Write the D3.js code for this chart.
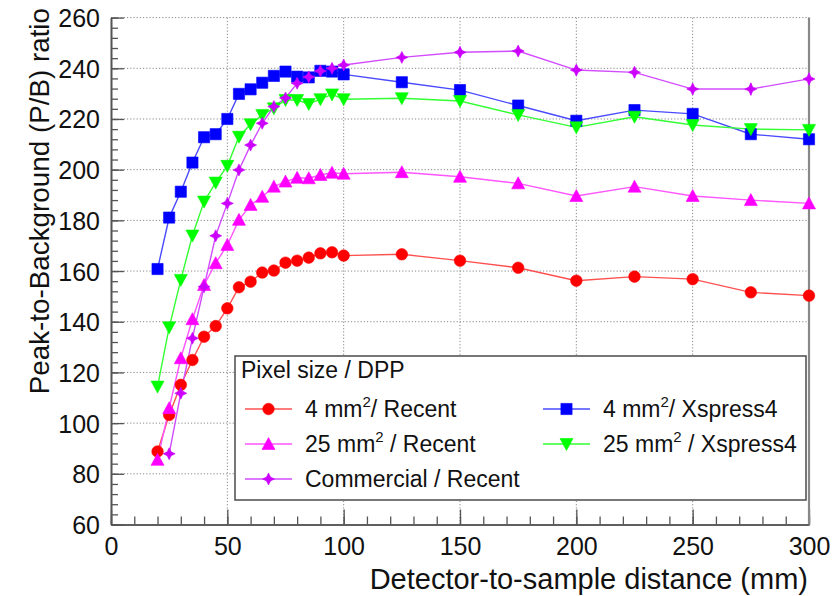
<!DOCTYPE html>
<html><head><meta charset="utf-8">
<script src="https://cdn.jsdelivr.net/npm/d3@7"></script>
<style>body{margin:0;background:#fff}svg{display:block;font-family:"Liberation Sans",Arial,sans-serif}</style>
</head><body>
<svg id="c" width="838" height="596"></svg>
<script>
// ---- data ----
const xTicks = [0, 50, 100, 150, 200, 250, 300];
const yTicks = [60, 80, 100, 120, 140, 160, 180, 200, 220, 240, 260];

const xRecent4 = [20,25,30,35,40,45,50,55,60,65,70,75,80,85,90,95,100,125,150,175,200,225,250,275,300];
const yRecent4 = [88.8,103.2,115.1,124.9,134.1,138.3,145.3,153.6,155.8,159.4,160.2,163.3,164.1,165.3,167.0,167.4,166.1,166.6,164.1,161.3,156.2,157.8,156.8,151.6,150.3];

const xRecent25 = [20,25,30,35,40,45,50,55,60,65,70,75,80,85,90,95,100,125,150,175,200,225,250,275,300];
const yRecent25 = [85.5,105.9,125.6,141.0,154.5,163.1,170.3,180.2,186.1,189.3,193.3,195.3,196.8,196.6,197.9,198.8,198.4,199.0,197.2,194.6,189.6,193.3,189.6,188.0,186.7];

const xCommercial = [25,30,35,40,45,50,55,60,65,70,75,80,85,90,95,100,125,150,175,200,225,250,275,300];
const yCommercial = [87.9,111.8,133.5,153.8,173.9,186.7,199.9,209.7,218.3,224.9,228.3,234.1,236.6,238.9,240.0,241.3,244.3,246.3,246.8,239.3,238.4,231.8,231.8,235.8];
const eCommercial = [1,1,1,1,1,1,1,1,1,1,1,1,1,1.5,1.5,1.5,1.5,1.8,2,2,2.2,2.2,2.5,2.5];

const xXsp4 = [20,25,30,35,40,45,50,55,60,65,70,75,80,85,90,95,100,125,150,175,200,225,250,275,300];
const yXsp4 = [160.8,181.1,191.3,202.8,212.8,214.0,220.0,229.9,231.7,234.3,237.0,238.7,236.7,236.4,239.0,238.7,237.6,234.5,231.4,225.3,219.3,223.5,222.0,214.0,212.0];

const xXsp25 = [20,25,30,35,40,45,50,55,60,65,70,75,80,85,90,95,100,125,150,175,200,225,250,275,300];
const yXsp25 = [114.4,137.8,156.5,174.0,187.4,194.9,201.5,213.0,217.9,221.6,224.2,227.5,227.5,225.9,227.8,229.7,227.8,228.2,227.1,221.6,216.7,220.9,217.6,216.0,215.7];

const seriesNames = ["4 mm|/ Recent", "4 mm|/ Xspress4", "25 mm| / Recent", "25 mm| / Xspress4", "Commercial / Recent"];

// ---- layout ----
const svg = d3.select("#c");
const x = d3.scaleLinear().domain([0, 300]).range([111, 809]);
const y = d3.scaleLinear().domain([60, 260]).range([524.5, 17.6]);
const X0 = x(0), X1 = x(300), Y0 = y(60), Y1 = y(260);

// grid
const grid = svg.append("g").attr("stroke", "#888").attr("stroke-width", 1).attr("stroke-dasharray", "1.2,2");
grid.selectAll("line.gx").data(xTicks.filter(d => d > 0 && d < 300)).join("line")
  .attr("x1", d => x(d)).attr("x2", d => x(d)).attr("y1", Y0).attr("y2", Y1);
grid.selectAll("line.gy").data(yTicks.filter(d => d > 60)).join("line")
  .attr("x1", X0).attr("x2", X1).attr("y1", d => y(d)).attr("y2", d => y(d));

// axes
const fs = 25;
const minorY = d3.range(60, 260.01, 4);
const minorX = d3.range(0, 300.01, 10);
const ax = svg.append("g");
const yAx = ax.append("g").attr("transform", `translate(${X0},0)`)
  .call(d3.axisLeft(y).tickValues(yTicks).tickSizeInner(-13).tickSizeOuter(0).tickPadding(11));
const yMin = ax.append("g").attr("transform", `translate(${X0},0)`)
  .call(d3.axisLeft(y).tickValues(minorY).tickSizeInner(-7).tickSizeOuter(0).tickFormat(""));
const xAx = ax.append("g").attr("transform", `translate(0,${Y0})`)
  .call(d3.axisBottom(x).tickValues(xTicks).tickSizeInner(-15).tickSizeOuter(0).tickPadding(12));
const xMin = ax.append("g").attr("transform", `translate(0,${Y0})`)
  .call(d3.axisBottom(x).tickValues(minorX).tickSizeInner(-8).tickSizeOuter(0).tickFormat(""));
[yAx, yMin, xAx, xMin].forEach(g => {
  g.select(".domain").attr("stroke", "#555").attr("stroke-width", 1.6);
  g.selectAll(".tick line").attr("stroke", "#555").attr("stroke-width", 1.3);
  g.selectAll("text").attr("font-size", fs).attr("font-family", "Liberation Sans, Arial, sans-serif").attr("fill", "#111");
});
yAx.selectAll("text").attr("dy", "0.36em");
xAx.selectAll("text").attr("dy", "0.75em");
// right frame
svg.append("line").attr("x1", X1).attr("x2", X1).attr("y1", Y0).attr("y2", Y1)
  .attr("stroke", "#888").attr("stroke-width", 2.2);

// titles
svg.append("text").attr("x", 808).attr("y", 589).attr("text-anchor", "end")
  .attr("font-size", 29).attr("fill", "#111").text("Detector-to-sample distance (mm)");
svg.append("text").attr("transform", "translate(49,8) rotate(-90)").attr("text-anchor", "end")
  .attr("font-size", 27.8).attr("fill", "#111").text("Peak-to-Background (P/B) ratio");

// series drawing
const plot = svg.append("g");
function mk(sym, size) { return d3.symbol().type(sym).size(size)(); }
const star4 = (() => {
  const r = 6, ri = 2.8, pts = [];
  for (let i = 0; i < 8; i++) { const a = i * Math.PI / 4 - Math.PI / 2; const rr = i % 2 ? ri : r; pts.push([rr * Math.cos(a), rr * Math.sin(a)]); }
  return "M" + pts.map(p => p.join(",")).join("L") + "Z";
})();
const triDown = "M-6.5,-5.5L6.5,-5.5L0,6.5Z";
const triUp = "M-6.5,5.5L6.5,5.5L0,-6.5Z";

const series = [
  { xs: xRecent4, ys: yRecent4, color: "#ff0000", line: "#ff5050", path: mk(d3.symbolCircle, 105) },
  { xs: xXsp4, ys: yXsp4, color: "#0000ff", line: "#4a4aff", path: "M-5.6,-5.6H5.6V5.6H-5.6Z" },
  { xs: xRecent25, ys: yRecent25, color: "#ff00ff", line: "#ff55ff", path: triUp },
  { xs: xXsp25, ys: yXsp25, color: "#00ff00", line: "#33ff33", path: triDown },
  { xs: xCommercial, ys: yCommercial, color: "#cc00ff", line: "#d24cff", path: star4, err: eCommercial }
];
const line = d3.line().x(d => x(d[0])).y(d => y(d[1]));
series.forEach(s => {
  const pts = s.xs.map((v, i) => [v, s.ys[i]]);
  plot.append("path").attr("d", line(pts)).attr("fill", "none").attr("stroke", s.line).attr("stroke-width", 1.4);
});
series.forEach(s => {
  const pts = s.xs.map((v, i) => [v, s.ys[i], s.err ? s.err[i] : 0]);
  if (s.err) {
    plot.append("g").selectAll("line").data(pts).join("line")
      .attr("x1", d => x(d[0])).attr("x2", d => x(d[0]))
      .attr("y1", d => y(d[1] - d[2])).attr("y2", d => y(d[1] + d[2]))
      .attr("stroke", s.line).attr("stroke-width", 1.4);
  }
  plot.append("g").selectAll("path").data(pts).join("path")
    .attr("transform", d => `translate(${x(d[0])},${y(d[1])})`)
    .attr("d", s.path).attr("fill", s.color).attr("stroke", s.color).attr("stroke-width", 0.6);
});

// legend
const lg = svg.append("g");
lg.append("rect").attr("x", 235).attr("y", 356).attr("width", 571).attr("height", 144)
  .attr("fill", "#fff").attr("stroke", "#555").attr("stroke-width", 1.6);
lg.append("text").attr("x", 241).attr("y", 378).attr("font-size", 23).attr("fill", "#111").text("Pixel size / DPP");
const legendPos = [[0, 409], [1, 409], [0, 444], [1, 444], [0, 479]];
const legendOrder = [0, 1, 2, 3, 4];
legendOrder.forEach((si, k) => {
  const s = series[si];
  const [col, yy] = legendPos[k];
  const lx = col === 0 ? 245 : 543;
  lg.append("line").attr("x1", lx).attr("x2", lx + 47).attr("y1", yy).attr("y2", yy)
    .attr("stroke", s.line).attr("stroke-width", 1.4);
  lg.append("path").attr("transform", `translate(${lx + 23.5},${yy})`).attr("d", s.path)
    .attr("fill", s.color).attr("stroke", s.color).attr("stroke-width", 0.6);
  const parts = seriesNames[si].split("|");
  const t = lg.append("text").attr("x", lx + 60).attr("y", yy + 8).attr("font-size", 23).attr("fill", "#111");
  t.append("tspan").text(parts[0]);
  if (parts.length > 1) {
    t.append("tspan").attr("font-size", 15).attr("dy", -10).text("2");
    t.append("tspan").attr("dy", 10).text(parts[1]);
  }
});
</script>
</body></html>
